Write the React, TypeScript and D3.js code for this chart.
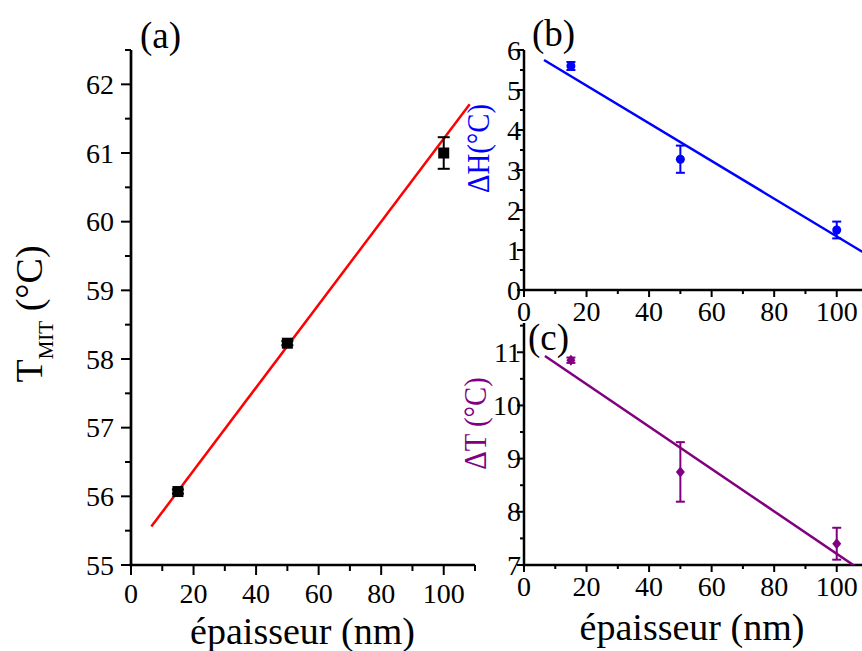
import React from 'react';
import * as d3 from 'd3';

const FONT = "'Liberation Serif','Times New Roman',serif";

// ---------- data ----------
const thickness = [15, 50, 100];
const tmit = [56.07, 58.23, 61.0];
const tmitErr = [0.03, 0.03, 0.23];
const deltaH = [5.6, 3.27, 1.5];
const deltaHErr = [0.1, 0.34, 0.21];
const deltaT = [10.85, 8.75, 7.4];
const deltaTErr = [0.05, 0.56, 0.3];

// linear fit end points [x, y]
const fitA: [number, number][] = [[6.5, 55.56], [108.3, 61.71]];
const fitB: [number, number][] = [[6.4, 5.75], [108.3, 0.95]];
const fitC: [number, number][] = [[6.7, 10.93], [108.3, 6.88]];

// ticks
const xMajor = [0, 20, 40, 60, 80, 100];
const xMinor = [10, 30, 50, 70, 90, 110];
const yMajorA = [55, 56, 57, 58, 59, 60, 61, 62];
const yMinorA = [55.5, 56.5, 57.5, 58.5, 59.5, 60.5, 61.5, 62.5];
const yMajorB = [0, 1, 2, 3, 4, 5, 6];
const yMinorB = [0.5, 1.5, 2.5, 3.5, 4.5, 5.5];
const yMajorC = [7, 8, 9, 10, 11];
const yMinorC = [7.5, 8.5, 9.5, 10.5, 11.5];

type Scale = d3.ScaleLinear<number, number>;

function Axes(p: {
  x: Scale; y: Scale; yTop: number; yMajor: number[]; yMinor: number[];
  major: number; minor: number; xLabelBase: number; yLabelX: number; fs: number; sw: number;
}) {
  const { x, y } = p;
  const [x0, x1] = x.range();
  const y0 = y(y.domain()[0]);
  const yT = y(p.yTop);
  return (
    <g stroke="#000" fill="none">
      <line x1={x0} x2={x0} y1={yT} y2={y0 + p.sw / 2} strokeWidth={p.sw} />
      <line x1={x0 - p.sw / 2} x2={x1} y1={y0} y2={y0} strokeWidth={p.sw} />
      {xMajor.map(v => <line key={'xM' + v} x1={x(v)} x2={x(v)} y1={y0} y2={y0 + p.major} strokeWidth={2} />)}
      {xMinor.map(v => <line key={'xm' + v} x1={x(v)} x2={x(v)} y1={y0} y2={y0 + p.minor} strokeWidth={2} />)}
      {p.yMajor.map(v => <line key={'yM' + v} x1={x0} x2={x0 - p.major} y1={y(v)} y2={y(v)} strokeWidth={2} />)}
      {p.yMinor.map(v => <line key={'ym' + v} x1={x0} x2={x0 - p.minor} y1={y(v)} y2={y(v)} strokeWidth={2} />)}
      <g fill="#000" stroke="none" fontFamily={FONT} fontSize={p.fs}>
        {xMajor.map(v => <text key={'xt' + v} x={x(v)} y={p.xLabelBase} textAnchor="middle">{v}</text>)}
        {p.yMajor.map(v => <text key={'yt' + v} x={p.yLabelX} y={y(v)} dy="0.34em" textAnchor="end">{v}</text>)}
      </g>
    </g>
  );
}

function ErrorBars(p: { x: Scale; y: Scale; vals: number[]; errs: number[]; color: string; cap: number }) {
  return (
    <g stroke={p.color} strokeWidth={2}>
      {thickness.map((t, i) => {
        const cx = p.x(t);
        const yl = p.y(p.vals[i] - p.errs[i]);
        const yh = p.y(p.vals[i] + p.errs[i]);
        return (
          <g key={i}>
            <line x1={cx} x2={cx} y1={yl} y2={yh} />
            <line x1={cx - p.cap} x2={cx + p.cap} y1={yl} y2={yl} />
            <line x1={cx - p.cap} x2={cx + p.cap} y1={yh} y2={yh} />
          </g>
        );
      })}
    </g>
  );
}

export default function App() {
  const W = 862, H = 651;
  const xA = d3.scaleLinear().domain([0, 110]).range([131, 475]);
  const yA = d3.scaleLinear().domain([55, 62.5]).range([565, 50]);
  const xB = d3.scaleLinear().domain([0, 110]).range([524, 868]);
  const yB = d3.scaleLinear().domain([0, 6]).range([290, 50]);
  const xC = d3.scaleLinear().domain([0, 110]).range([524, 868]);
  const yC = d3.scaleLinear().domain([7, 11.55]).range([565, 323]);

  const lineA = d3.line<[number, number]>().x(d => xA(d[0])).y(d => yA(d[1]));
  const lineB = d3.line<[number, number]>().x(d => xB(d[0])).y(d => yB(d[1]));
  const lineC = d3.line<[number, number]>().x(d => xC(d[0])).y(d => yC(d[1]));

  return (
    <svg width={W} height={H} viewBox={`0 0 ${W} ${H}`}
      style={{ position: 'absolute', left: 0, top: 0, background: '#fff' }}>
      <defs>
        <clipPath id="clipB"><rect x={524} y={40} width={344} height={250} /></clipPath>
        <clipPath id="clipC"><rect x={524} y={310} width={344} height={255} /></clipPath>
      </defs>
      <rect width={W} height={H} fill="#fff" />

      {/* Panel (a) */}
      <Axes x={xA} y={yA} yTop={62.5} yMajor={yMajorA} yMinor={yMinorA} major={10} minor={6}
        xLabelBase={603} yLabelX={114} fs={28} sw={2.7} />
      <path d={lineA(fitA) || ''} stroke="#ff0000" strokeWidth={2.5} fill="none" />
      <ErrorBars x={xA} y={yA} vals={tmit} errs={tmitErr} color="#000" cap={6} />
      {thickness.map((t, i) => (
        <rect key={i} x={xA(t) - 5.5} y={yA(tmit[i]) - 5.5} width={11} height={11} fill="#000" />
      ))}

      {/* Panel (b) */}
      <Axes x={xB} y={yB} yTop={6} yMajor={yMajorB} yMinor={yMinorB} major={7} minor={4}
        xLabelBase={321} yLabelX={521} fs={28} sw={2.5} />
      <path d={lineB(fitB) || ''} stroke="#0000ff" strokeWidth={2.5} fill="none" clipPath="url(#clipB)" />
      <ErrorBars x={xB} y={yB} vals={deltaH} errs={deltaHErr} color="#0000ff" cap={4.5} />
      {thickness.map((t, i) => (
        <circle key={i} cx={xB(t)} cy={yB(deltaH[i])} r={4.5} fill="#0000ff" />
      ))}

      {/* Panel (c) */}
      <Axes x={xC} y={yC} yTop={11.55} yMajor={yMajorC} yMinor={yMinorC} major={7} minor={4}
        xLabelBase={596} yLabelX={521} fs={28} sw={2.5} />
      <path d={lineC(fitC) || ''} stroke="#800080" strokeWidth={2.5} fill="none" clipPath="url(#clipC)" />
      <ErrorBars x={xC} y={yC} vals={deltaT} errs={deltaTErr} color="#800080" cap={4.5} />
      {thickness.map((t, i) => {
        const cx = xC(t), cy = yC(deltaT[i]);
        return <path key={i} d={`M${cx},${cy - 5.5}L${cx + 4.5},${cy}L${cx},${cy + 5.5}L${cx - 4.5},${cy}Z`} fill="#800080" />;
      })}

      {/* Labels */}
      <g fontFamily={FONT} fill="#000">
        <text x={140} y={48} fontSize={37}>(a)</text>
        <text x={532} y={46} fontSize={37}>(b)</text>
        <text x={528} y={350} fontSize={37}>(c)</text>
        <text x={302.5} y={644} fontSize={38} textAnchor="middle">épaisseur (nm)</text>
        <text x={692} y={640} fontSize={38} textAnchor="middle">épaisseur (nm)</text>
        <text transform="translate(42,314) rotate(-90)" fontSize={38} textAnchor="middle">
          T<tspan fontSize={21} dy={11}>MIT</tspan><tspan dy={-11}> (°C)</tspan>
        </text>
        <text transform="translate(489,148.5) rotate(-90) scale(0.9,1)" fontSize={32} textAnchor="middle" fill="#0000ff">ΔH(°C)</text>
        <text transform="translate(486,423.5) rotate(-90) scale(0.9,1)" fontSize={32} textAnchor="middle" fill="#800080">ΔT (°C)</text>
      </g>
    </svg>
  );
}
